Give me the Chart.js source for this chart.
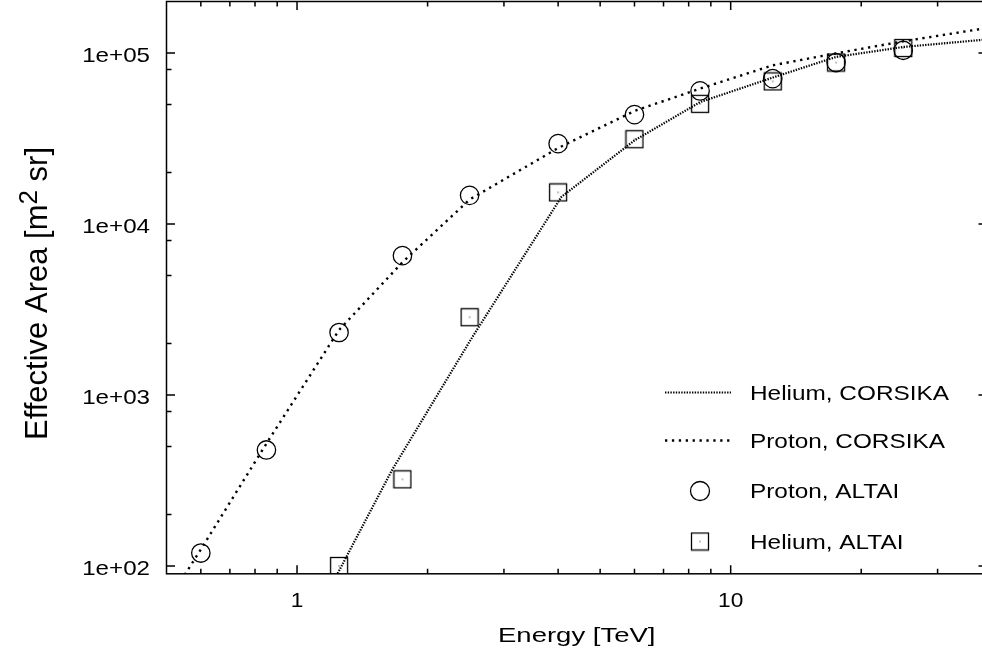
<!DOCTYPE html>
<html>
<head>
<meta charset="utf-8">
<script src="https://cdn.jsdelivr.net/npm/chart.js@4.4.0/dist/chart.umd.min.js"></script>
<style>
  html, body { margin: 0; padding: 0; overflow: hidden; background: #fff; }
</style>
</head>
<body>
<canvas id="myChart" width="988" height="657"></canvas>
<script>
// measured points (ALTAI)
const protonAltaiE = [0.6, 0.85, 1.25, 1.75, 2.5, 4.0, 6.0, 8.5, 12.5, 17.5, 25];
const protonAltai = [119, 477, 2320, 6530, 14700, 29500, 43600, 60000, 70800, 87900, 103700];
const heliumAltaiE = [1.25, 1.75, 2.5, 4.0, 6.0, 8.5, 12.5, 17.5, 25];
const heliumAltai = [100, 321, 2850, 15300, 31300, 50400, 68200, 87900, 106900];

// simulation curves (CORSIKA)
const protonCorsikaE = [0.54, 0.6, 0.85, 1.25, 1.75, 2.5, 4.0, 6.0, 8.5, 12.5, 17.5, 25, 39];
const protonCorsika = [82, 125, 520, 2400, 5970, 13900, 27800, 45800, 61900, 84700, 99500, 117000, 140000];
const heliumCorsikaE = [1.2, 1.655, 2.525, 4.07, 6.0, 8.5, 12.5, 17.5, 25, 39];
const heliumCorsika = [77, 363, 2140, 14400, 30800, 51600, 71800, 94800, 108400, 120000];

// axes
const xTickValues = [1, 10];
const xTickLabels = ["1", "10"];
const xMinorTicks = [0.6, 0.7, 0.8, 0.9, 2, 3, 4, 5, 6, 7, 8, 9, 20, 30];
const yTickValues = [1e2, 1e3, 1e4, 1e5];
const yTickLabels = ["1e+02", "1e+03", "1e+04", "1e+05"];
const yMinorTicks = [200, 500, 800, 2000, 5000, 8000, 20000, 50000, 80000];

const legendLabels = ["Helium, CORSIKA", "Proton, CORSIKA", "Proton, ALTAI", "Helium, ALTAI"];

const FONT = "'Liberation Sans', Arial, Helvetica, sans-serif";

function pts(xs, ys) {
  return xs.map(function (x, i) { return { x: x, y: ys[i] }; });
}

// box with a dot in the middle, like the gnuplot marker
const boxMark = document.createElement("canvas");
boxMark.width = 20;
boxMark.height = 20;
(function () {
  let c = boxMark.getContext("2d");
  c.strokeStyle = "#000";
  c.lineWidth = 1.3;
  c.strokeRect(1.5, 1.5, 17, 17);
  c.fillStyle = "#000";
  c.fillRect(9.5, 9.5, 1, 1);
})();

function stretchText(ctx, txt, x, y, align, sx) {
  ctx.save();
  ctx.translate(x, y);
  ctx.scale(sx, 1);
  ctx.textAlign = align;
  ctx.textBaseline = "alphabetic";
  ctx.fillText(txt, 0, 0);
  ctx.restore();
}

const decor = {
  id: "decor",
  afterDraw: function (chart) {
    const ctx = chart.ctx;
    const a = chart.chartArea;
    const xs = chart.scales.x;
    const ys = chart.scales.y;
    ctx.save();
    ctx.strokeStyle = "#000";
    ctx.lineWidth = 1.5;
    ctx.setLineDash([]);

    // frame
    ctx.strokeRect(a.left, a.top, a.right - a.left, a.bottom - a.top);

    // inward ticks
    ctx.beginPath();
    function xt(v, len) {
      let p = xs.getPixelForValue(v);
      ctx.moveTo(p, a.bottom); ctx.lineTo(p, a.bottom - len);
      ctx.moveTo(p, a.top); ctx.lineTo(p, a.top + len);
    }
    function yt(v, len) {
      let p = ys.getPixelForValue(v);
      ctx.moveTo(a.left, p); ctx.lineTo(a.left + len, p);
      ctx.moveTo(a.right, p); ctx.lineTo(a.right - len, p);
    }
    xTickValues.forEach(function (v) { xt(v, 8.5); });
    xMinorTicks.forEach(function (v) { xt(v, 5); });
    yTickValues.forEach(function (v) { yt(v, 8.5); });
    yMinorTicks.forEach(function (v) { yt(v, 5); });
    ctx.stroke();

    // tick labels
    ctx.fillStyle = "#000";
    ctx.font = "21px " + FONT;
    for (let i = 0; i < xTickValues.length; i++) {
      stretchText(ctx, xTickLabels[i], xs.getPixelForValue(xTickValues[i]), 607, "center", 1.08);
    }
    for (let i = 0; i < yTickValues.length; i++) {
      stretchText(ctx, yTickLabels[i], 150, ys.getPixelForValue(yTickValues[i]) + 9.3, "right", 1.15);
    }

    // x title
    stretchText(ctx, "Energy [TeV]", (a.left + a.right) / 2, 641.5, "center", 1.31);

    // y title with superscript
    const p1 = "Effective Area [m", p2 = "2", p3 = " sr]";
    ctx.font = "31px " + FONT;
    const w1 = ctx.measureText(p1).width, w3 = ctx.measureText(p3).width;
    ctx.font = "26px " + FONT;
    const w2 = ctx.measureText(p2).width;
    const total = w1 + w2 + w3;
    ctx.save();
    ctx.translate(46.5, 147 + total / 2);
    ctx.rotate(-Math.PI / 2);
    ctx.textAlign = "left";
    ctx.font = "31px " + FONT;
    ctx.fillText(p1, -total / 2, 0);
    ctx.font = "26px " + FONT;
    ctx.fillText(p2, -total / 2 + w1, -10);
    ctx.font = "31px " + FONT;
    ctx.fillText(p3, -total / 2 + w1 + w2, 0);
    ctx.restore();

    // legend
    const rows = [392.5, 440.5, 491, 541.5];
    const dsets = chart.data.datasets;
    for (let i = 0; i < 4; i++) {
      let ds = dsets[i];
      let y = rows[i];
      if (ds.showLine) {
        ctx.save();
        ctx.lineWidth = ds.borderWidth;
        ctx.setLineDash(ds.borderDash);
        ctx.beginPath();
        ctx.moveTo(665, y);
        ctx.lineTo(731, y);
        ctx.stroke();
        ctx.restore();
      } else if (ds.pointStyle === "circle") {
        ctx.save();
        ctx.lineWidth = ds.pointBorderWidth;
        ctx.beginPath();
        ctx.arc(700, y, 9.5, 0, Math.PI * 2);
        ctx.stroke();
        ctx.restore();
      } else {
        ctx.drawImage(boxMark, 690, y - 10);
      }
      ctx.font = "21px " + FONT;
      stretchText(ctx, legendLabels[i], 750, y + 7, "left", 1.16);
    }
    ctx.restore();
  },
};

const hiddenAxis = {
  type: "logarithmic",
  bounds: "data",
  grid: { display: false, drawTicks: false, tickLength: 0 },
  border: { display: false },
  ticks: { display: false, padding: 0 },
};

const config = {
  type: "scatter",
  data: {
    datasets: [
      {
        label: legendLabels[0],
        data: pts(heliumCorsikaE, heliumCorsika),
        showLine: true,
        borderColor: "#000",
        borderWidth: 2.2,
        borderDash: [1.4, 1.3],
        pointRadius: 0,
        tension: 0,
      },
      {
        label: legendLabels[1],
        data: pts(protonCorsikaE, protonCorsika),
        showLine: true,
        borderColor: "#000",
        borderWidth: 2.4,
        borderDash: [2.3, 4.6],
        pointRadius: 0,
        tension: 0,
      },
      {
        label: legendLabels[2],
        data: pts(protonAltaiE, protonAltai),
        showLine: false,
        pointStyle: "circle",
        pointRadius: 9.2,
        pointBorderWidth: 1.3,
        pointBorderColor: "#000",
        pointBackgroundColor: "rgba(0,0,0,0)",
      },
      {
        label: legendLabels[3],
        data: pts(heliumAltaiE, heliumAltai),
        showLine: false,
        pointStyle: boxMark,
        pointRadius: 10,
      },
    ],
  },
  options: {
    responsive: false,
    animation: false,
    layout: {
      autoPadding: false,
      padding: { left: 166.5, top: 1.5, right: 1, bottom: 83.2 },
    },
    scales: {
      x: Object.assign({}, hiddenAxis, { min: 0.5, max: 39 }),
      y: Object.assign({}, hiddenAxis, { min: 90, max: 200000 }),
    },
    plugins: {
      legend: { display: false },
      tooltip: { enabled: false },
    },
  },
  plugins: [decor],
};

myChart = new Chart(document.getElementById("myChart"), config);
</script>
</body>
</html>
